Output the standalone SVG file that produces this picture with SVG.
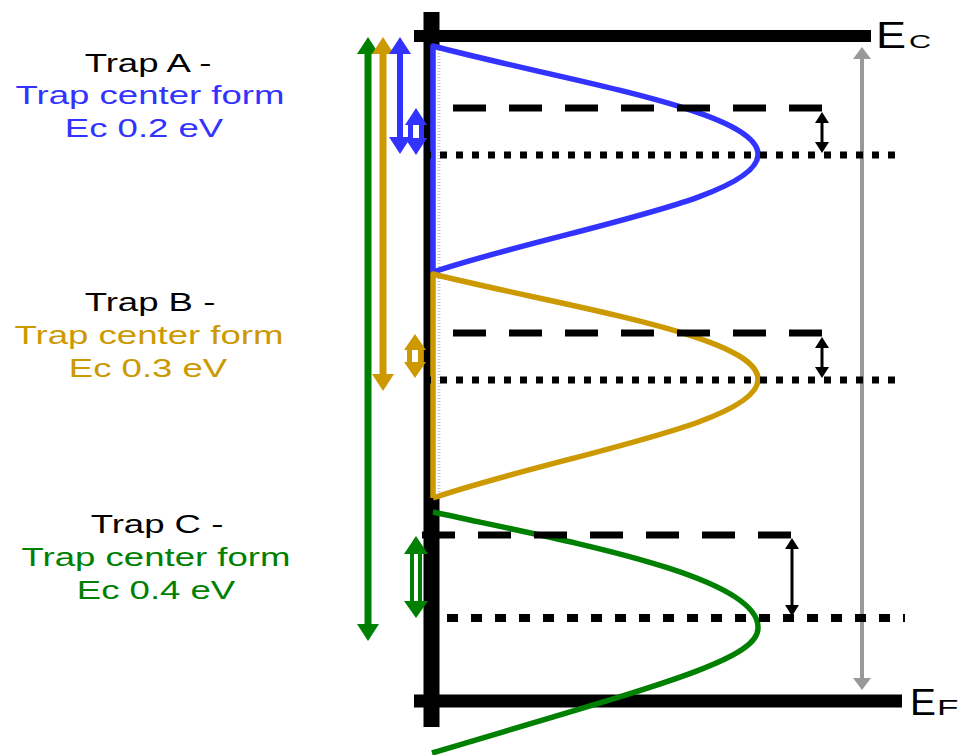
<svg xmlns="http://www.w3.org/2000/svg" width="960" height="755" viewBox="0 0 960 755">
<defs>
<style>
.lbl{font-family:"Liberation Sans",Arial,sans-serif;font-size:26.5px;text-anchor:middle}
.axis{stroke:#000;fill:none}
.dash{stroke:#000;stroke-width:7;stroke-dasharray:33 23;fill:none}
.dot{stroke:#000;stroke-width:7;stroke-dasharray:7 9;fill:none}
.curve{fill:none;stroke-width:5.5;stroke-linejoin:round}
.cfill{fill:#fff;stroke:none}
.tick{stroke:#c8c8c8;stroke-width:3;stroke-dasharray:1 2;fill:none}
.el{font-family:"Liberation Sans",Arial,sans-serif}
</style>
<marker id="hBlue" viewBox="0 0 17 22" refX="0" refY="11" markerWidth="17" markerHeight="22" markerUnits="userSpaceOnUse" orient="auto-start-reverse"><path d="M0,0 L17,11 L0,22 Z" fill="#3333ff"/></marker>
<marker id="hGold" viewBox="0 0 17 22" refX="0" refY="11" markerWidth="17" markerHeight="22" markerUnits="userSpaceOnUse" orient="auto-start-reverse"><path d="M0,0 L17,11 L0,22 Z" fill="#cc9900"/></marker>
<marker id="hGreen" viewBox="0 0 17 22" refX="0" refY="11" markerWidth="17" markerHeight="22" markerUnits="userSpaceOnUse" orient="auto-start-reverse"><path d="M0,0 L17,11 L0,22 Z" fill="#008000"/></marker>
<marker id="hBlack" viewBox="0 0 11 14" refX="0" refY="7" markerWidth="11" markerHeight="14" markerUnits="userSpaceOnUse" orient="auto-start-reverse"><path d="M0,0 L11,7 L0,14 Z" fill="#000"/></marker>
<marker id="hGray" viewBox="0 0 12 18" refX="0" refY="9" markerWidth="12" markerHeight="18" markerUnits="userSpaceOnUse" orient="auto-start-reverse"><path d="M0,0 L12,9 L0,18 Z" fill="#999"/></marker>
</defs>
<rect width="960" height="755" fill="#fff"/>

<g id="axes">
<line class="axis" x1="431.5" y1="12" x2="431.5" y2="727" stroke-width="16"/>
<line class="axis" x1="414" y1="36" x2="871" y2="36" stroke-width="12"/>
<line class="axis" x1="414" y1="701" x2="902" y2="701" stroke-width="13"/>
</g>

<g id="connectors">
<line x1="862" y1="59" x2="862" y2="678" stroke="#999" stroke-width="4" marker-start="url(#hGray)" marker-end="url(#hGray)"/>
<line x1="822" y1="123" x2="822" y2="142" stroke="#000" stroke-width="3" marker-start="url(#hBlack)" marker-end="url(#hBlack)"/>
<line x1="822" y1="348" x2="822" y2="367" stroke="#000" stroke-width="3" marker-start="url(#hBlack)" marker-end="url(#hBlack)"/>
<line x1="792" y1="549" x2="792" y2="605" stroke="#000" stroke-width="3" marker-start="url(#hBlack)" marker-end="url(#hBlack)"/>
<line x1="368" y1="54" x2="368" y2="624" stroke="#008000" stroke-width="7" marker-start="url(#hGreen)" marker-end="url(#hGreen)"/>
<line x1="383" y1="54" x2="383" y2="374" stroke="#cc9900" stroke-width="7" marker-start="url(#hGold)" marker-end="url(#hGold)"/>
<line x1="400" y1="54" x2="400" y2="137" stroke="#3333ff" stroke-width="6" marker-start="url(#hBlue)" marker-end="url(#hBlue)"/>
</g>

<g id="trapA">
<path class="cfill" d="M433,46 C560,80 760,110 758,155 C756,200 560,230 433,272 Z"/>
<line class="tick" x1="439" y1="50" x2="439" y2="268"/>
<path class="curve" stroke="#3333ff" d="M433,272 L433,46 C560,80 760,110 758,155 C756,200 560,230 433,272"/>
<line class="dash" x1="453" y1="108" x2="822" y2="108"/>
<line class="dot" x1="424" y1="155" x2="896" y2="155"/>
<path d="M416,108 L427,125 L424,125 L424,138 L427,138 L416,155 L405,138 L408,138 L408,125 L405,125 Z" fill="#3333ff"/>
<rect x="413" y="125" width="6" height="13" fill="#fff"/>
<text class="lbl" transform="translate(148,72) scale(1.38,1)" fill="#000">Trap A -</text>
<text class="lbl" transform="translate(150,104) scale(1.38,1)" fill="#3333ff">Trap center form</text>
<text class="lbl" transform="translate(144,137) scale(1.38,1)" fill="#3333ff">Ec 0.2 eV</text>
</g>

<g id="trapB">
<path class="cfill" d="M433,274 C560,306 760,335 758,380 C756,425 560,455 433,498 Z"/>
<line class="tick" x1="439" y1="278" x2="439" y2="494"/>
<path class="curve" stroke="#cc9900" d="M433,498 L433,274 C560,306 760,335 758,380 C756,425 560,455 433,498"/>
<line class="dash" x1="453" y1="333" x2="822" y2="333"/>
<line class="dot" x1="424" y1="380" x2="896" y2="380"/>
<path d="M415,334 L426,350 L423,350 L423,362 L426,362 L415,378 L404,362 L407,362 L407,350 L404,350 Z" fill="#cc9900"/>
<rect x="412" y="350" width="6" height="12" fill="#fff"/>
<text class="lbl" transform="translate(150,311) scale(1.38,1)" fill="#000">Trap B -</text>
<text class="lbl" transform="translate(149,344) scale(1.38,1)" fill="#cc9900">Trap center form</text>
<text class="lbl" transform="translate(148,377) scale(1.38,1)" fill="#cc9900">Ec 0.3 eV</text>
</g>

<g id="trapC">
<path class="curve" stroke="#008000" d="M433,512 C560,540 760,575 758,628 C758,660 660,685 432,753"/>
<line class="dash" x1="422" y1="535" x2="792" y2="535" stroke-width="8"/>
<line class="dot" x1="447" y1="618" x2="905" y2="618" style="stroke-width:8;stroke-dasharray:11 13"/>
<path d="M416,536 L428,554 L422,554 L422,601 L428,601 L416,618 L404,601 L410,601 L410,554 L404,554 Z" fill="#008000"/>
<rect x="414" y="554" width="4" height="47" fill="#fff"/>
<text class="lbl" transform="translate(157,533) scale(1.38,1)" fill="#000">Trap C -</text>
<text class="lbl" transform="translate(156,566) scale(1.38,1)" fill="#008000">Trap center form</text>
<text class="lbl" transform="translate(156,599) scale(1.38,1)" fill="#008000">Ec 0.4 eV</text>
</g>

<g id="labelEc">
<text class="el" transform="translate(876,48) scale(1.25,1)" font-size="36">E</text>
<text class="el" transform="translate(909,48) scale(1.7,1)" font-size="18">C</text>
</g>
<g id="labelEF">
<text class="el" transform="translate(910,715) scale(1.05,1)" font-size="37">E</text>
<text class="el" transform="translate(937,715) scale(1.6,1)" font-size="22">F</text>
</g>
</svg>
